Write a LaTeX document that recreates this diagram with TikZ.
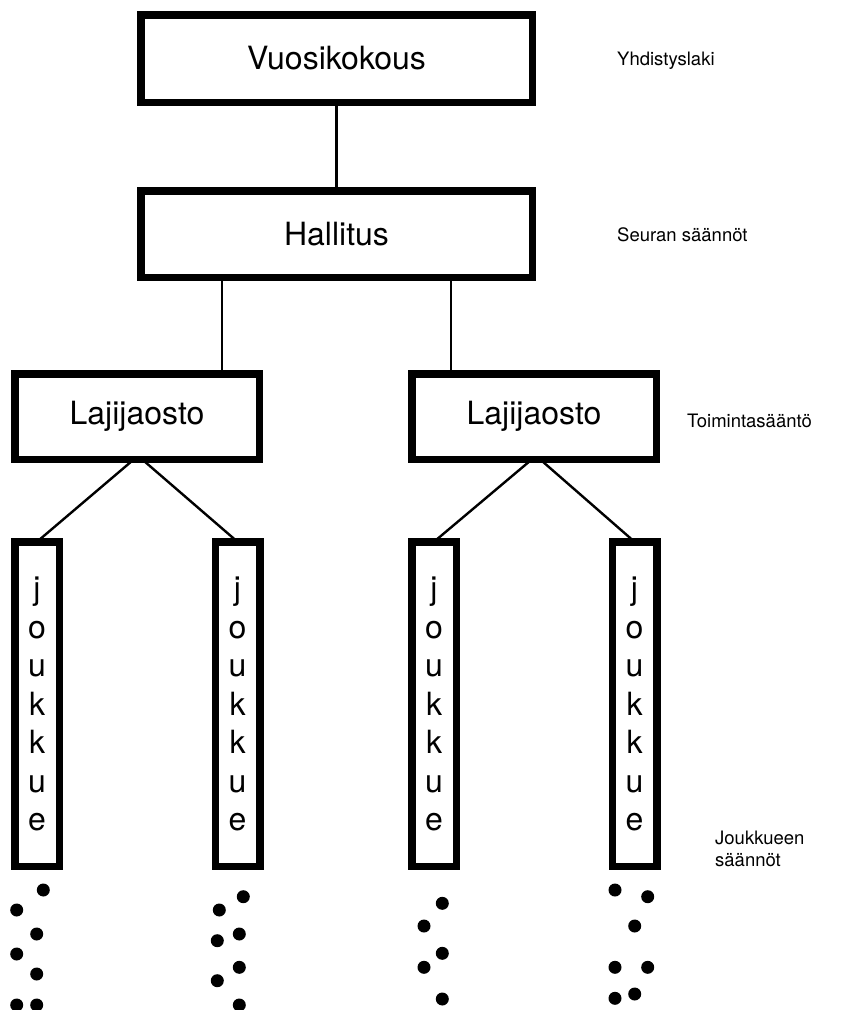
\documentclass[tikz,border=0pt]{standalone}
\usepackage{fontspec}
\setmainfont{TeX Gyre Heros}
\usetikzlibrary{calc}
\begin{document}
\begin{tikzpicture}[x=1pt,y=-1pt,
  box/.style={draw, line width=7.5pt, inner sep=0pt, outer sep=0pt,
              align=center, font=\fontsize{32}{38.5}\selectfont},
  link/.style={line width=2.4pt},
  note/.style={font=\fontsize{18.5}{22}\selectfont, inner sep=0pt,
               anchor=base west, align=left}]
\useasboundingbox[fill=white] (0,0) rectangle (842,1010);

% governing bodies
\node[box, minimum width=391.5pt, minimum height=87.5pt] (V) at (336.5,58.5) {Vuosikokous};
\node[box, minimum width=391.5pt, minimum height=86.5pt] (H) at (336.5,234) {Hallitus};
\node[box, minimum width=244.5pt, minimum height=85.5pt] (L1) at (137,416.5) {Lajijaosto};
\node[box, minimum width=244.5pt, minimum height=85.5pt] (L2) at (534,416.5) {Lajijaosto};

% teams
\foreach \n/\x in {J1/37, J2/237.5, J3/434, J4/634.5}
  \node[box, minimum width=44.5pt, minimum height=324.5pt] (\n) at (\x,704)
    {j\\o\\u\\k\\k\\u\\e};

% drop points under the board
\coordinate (hA) at (222,0);
\coordinate (hB) at (450.7,0);

% connectors
\draw[link] (V.south) -- (H.north);
\draw[link] (H.south -| hA) -- (L1.north -| hA);
\draw[link] (H.south -| hB) -- (L2.north -| hB);
\draw[link] ($(L1.south)+(-3,0)$) -- (J1.north);
\draw[link] ($(L1.south)+(5,0)$) -- (J2.north);
\draw[link] ($(L2.south)+(-2,0)$) -- (J3.north);
\draw[link] ($(L2.south)+(6,0)$) -- (J4.north);

% rule levels
\node[note] (n1) at (617,65) {Yhdistyslaki};
\node[note] (n2) at (617,241) {Seuran säännöt};
\node[note] (n3) at (687,427) {Toimintasääntö};
\node[note] (n4) at (715,866) {Joukkueen\\säännöt};

% trailing dots below the teams
\foreach \x/\y in {43.3/890, 16.7/910, 36.7/934, 16.7/954, 36.7/974, 16.7/1005, 36.7/1005,
                   243.3/896.7, 219.3/910, 239.3/934, 217.3/940.7, 239.3/967.3, 217.3/980.7, 239.3/1005,
                   442.3/903.3, 424/926, 442.3/953.3, 424/967.3, 442.3/999,
                   615/890, 647.7/896.7, 634.7/926, 615/967.3, 647.7/967.3, 634.7/994, 615/998.3}
  \fill (\x,\y) circle[radius=6.5pt];
\end{tikzpicture}
\end{document}
